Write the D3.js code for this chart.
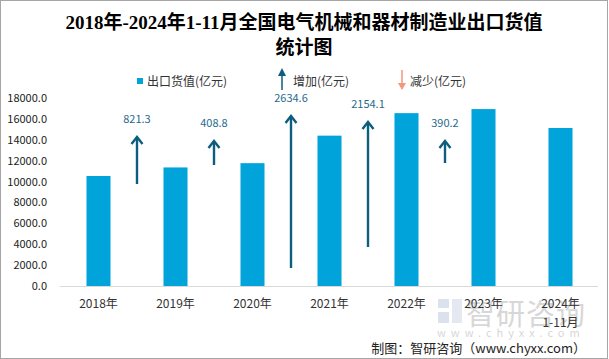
<!DOCTYPE html>
<html><head><meta charset="utf-8">
<script src="https://cdn.jsdelivr.net/npm/d3@7/dist/d3.min.js"></script>
<style>
html,body{margin:0;padding:0;background:#fff;}
svg{display:block;}
text{font-family:"Microsoft YaHei","Noto Sans CJK SC","Noto Sans",sans-serif;}
</style></head>
<body>
<svg id="chart" width="609" height="359"></svg>
<script>
// ---- data ----
const categories = ["2018年", "2019年", "2020年", "2021年", "2022年", "2023年", "2024年\n1-11月"];
const exportValues = [10530.0, 11351.3, 11760.1, 14394.7, 16548.8, 16939.0, 15130.0];
const changeLabels = ["821.3", "408.8", "2634.6", "2154.1", "390.2"];
const changeValues = [821.3, 408.8, 2634.6, 2154.1, 390.2];
// arrow base / tip positions (in axis units) between consecutive bars
const arrowBase = [9766, 11585, 1723, 3734, 11777];
const arrowTip = [14266, 13883, 16277, 15702, 13883];
const yTicks = [0, 2000, 4000, 6000, 8000, 10000, 12000, 14000, 16000, 18000];
const titleLines = ["2018年-2024年1-11月全国电气机械和器材制造业出口货值", "统计图"];
const legendLabels = ["出口货值(亿元)", "增加(亿元)", "减少(亿元)"];
const sourceText = "制图：智研咨询（www.chyxx.com）";

// ---- drawing ----
const W = 609, H = 359;
const svg = d3.select("#chart");
const barColor = "#00A3DA", upColor = "#0D5E7E", downColor = "#F4957E", labelColor = "#1F6B8C";

// border
svg.append("rect").attr("x", 0.5).attr("y", 0.5).attr("width", W - 2).attr("height", H - 1)
  .attr("fill", "#fff").attr("stroke", "#a6a6a6").attr("stroke-width", 1);

// title
svg.append("g").selectAll("text").data(titleLines).join("text")
  .attr("x", 304).attr("y", (d, i) => 29 + i * 25)
  .attr("text-anchor", "middle")
  .style("font-family", '"Liberation Serif","Noto Sans CJK SC",serif')
  .style("font-size", "19px").style("font-weight", "bold").attr("fill", "#000")
  .text(d => d);

const x = d3.scaleBand().domain(categories).range([60, 599]).paddingInner(0.688).paddingOuter(0.344);
const y = d3.scaleLinear().domain([0, 18000]).range([286, 98]);

// y axis
const yAxis = svg.append("g").attr("transform", "translate(49,0)")
  .call(d3.axisLeft(y).tickValues(yTicks).tickFormat(d3.format(".1f")).tickSize(0));
yAxis.select(".domain").remove();
yAxis.selectAll("text").attr("x", -2).attr("fill", "#222").style("font-size", "11px");

// baseline
svg.append("line").attr("x1", 60).attr("x2", 598).attr("y1", y(0) + 0.5).attr("y2", y(0) + 0.5)
  .attr("stroke", "#d9d9d9").attr("stroke-width", 1);

// watermark
const wm = svg.append("g").attr("opacity", 0.5);
wm.append("rect").attr("x", 438).attr("y", 299).attr("width", 11).attr("height", 9).attr("fill", "#b9c6dc");
wm.append("rect").attr("x", 438).attr("y", 312).attr("width", 11).attr("height", 11).attr("fill", "#b9c6dc");
wm.append("rect").attr("x", 452).attr("y", 299).attr("width", 10).attr("height", 24).attr("fill", "#c9d3e4");
wm.append("text").attr("x", 466).attr("y", 325).style("font-size", "29px").attr("fill", "#b0b0b0")
  .style("letter-spacing", "1px").text("智研咨询");
wm.append("text").attr("x", 437).attr("y", 337).style("font-size", "11px").attr("fill", "#b0b0b0")
  .style("letter-spacing", "5px").text("www.chyxx.com");

// bars
svg.append("g").selectAll("rect").data(exportValues).join("rect")
  .attr("x", (d, i) => x(categories[i])).attr("width", x.bandwidth())
  .attr("y", d => y(d)).attr("height", d => y(0) - y(d))
  .attr("fill", barColor);

// x labels
const xl = svg.append("g").selectAll("text").data(categories).join("text")
  .attr("x", d => x(d) + x.bandwidth() / 2).attr("y", 308)
  .attr("text-anchor", "middle").style("font-size", "12px").attr("fill", "#333");
xl.each(function (d) {
  const parts = d.split("\n");
  d3.select(this).selectAll("tspan").data(parts).join("tspan")
    .attr("x", x(d) + x.bandwidth() / 2).attr("dy", (p, i) => i === 0 ? 0 : 19).text(p => p);
});

// change arrows
const arrows = svg.append("g").selectAll("g").data(changeValues).join("g");
const midX = i => (x(categories[i]) + x(categories[i + 1])) / 2 + x.bandwidth() / 2;
arrows.append("line")
  .attr("x1", (d, i) => midX(i)).attr("x2", (d, i) => midX(i))
  .attr("y1", (d, i) => y(arrowBase[i])).attr("y2", (d, i) => y(arrowTip[i]) + 1)
  .attr("stroke", upColor).attr("stroke-width", 2.4);
arrows.append("path")
  .attr("d", (d, i) => {
    const cx = midX(i), ty = y(arrowTip[i]);
    return `M${cx - 5.5},${ty + 7}L${cx},${ty}L${cx + 5.5},${ty + 7}`;
  })
  .attr("fill", "none").attr("stroke", upColor).attr("stroke-width", 2.4).attr("stroke-linejoin", "miter");
arrows.append("text")
  .attr("x", (d, i) => midX(i)).attr("y", (d, i) => y(arrowTip[i]) - 14)
  .attr("text-anchor", "middle").style("font-size", "11px").attr("fill", labelColor)
  .text((d, i) => changeLabels[i]);

// legend
const lg = svg.append("g");
lg.append("rect").attr("x", 137).attr("y", 78).attr("width", 6).attr("height", 6).attr("fill", barColor);
lg.append("line").attr("x1", 282).attr("x2", 282).attr("y1", 90).attr("y2", 72).attr("stroke", upColor).attr("stroke-width", 1.5);
lg.append("path").attr("d", "M278,76L282,68L286,76Z").attr("fill", upColor);
lg.append("line").attr("x1", 402).attr("x2", 402).attr("y1", 70).attr("y2", 85).attr("stroke", downColor).attr("stroke-width", 1.5);
lg.append("path").attr("d", "M398,83L402,90L406,83Z").attr("fill", downColor);
lg.selectAll("text").data(legendLabels).join("text")
  .attr("x", (d, i) => [147, 293, 410][i]).attr("y", 86)
  .style("font-size", "12px").attr("fill", "#333").text(d => d);

// source
svg.append("text").attr("x", 586).attr("y", 353).attr("text-anchor", "end")
  .style("font-size", "13px").attr("fill", "#222").text(sourceText);
</script>
</body></html>
